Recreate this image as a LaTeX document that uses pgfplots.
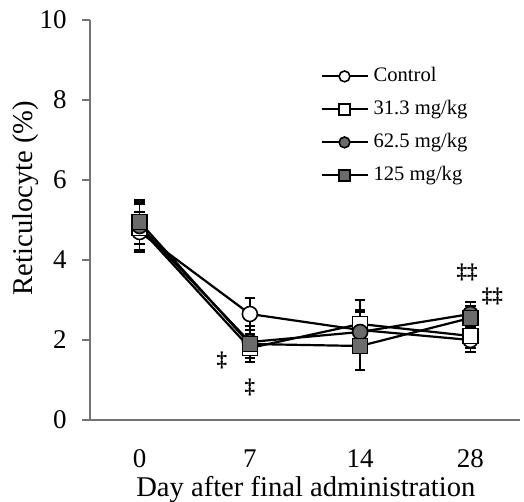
\documentclass[border=0pt]{standalone}
\usepackage{fontspec}
\setmainfont{Liberation Serif}
\usepackage{pgfplots}
\pgfplotsset{compat=1.18}
\usetikzlibrary{calc}
\definecolor{axcol}{gray}{0.45}
\definecolor{mfill}{gray}{0.42}
\pgfplotsset{
  mystyle/.style={black, line width=1.1pt, mark size=3.75pt,
    mark options={line width=0.8pt, solid, draw=black, fill=#1},
    error bars/y dir=both, error bars/y explicit,
    error bars/error bar style={line width=0.7pt, black},
    error bars/error mark options={rotate=90, mark size=2.6pt, line width=0.7pt, black}},
}
\begin{document}
\begin{tikzpicture}
\begin{axis}[
  name=ax,
  scale only axis, width=215pt, height=200pt,
  xmin=-0.45, xmax=3.45, ymin=0, ymax=10,
  axis x line*=bottom, axis y line*=left,
  axis line style={axcol, line width=0.6pt},
  xtick={0,1,2,3}, xticklabels={0,7,14,28},
  x tick style={draw=none},
  ytick={0,2,4,6,8,10},
  y tick style={axcol, line width=0.6pt},
  tick align=outside, major tick length=4pt,
  /pgf/number format/assume math mode=true,
  ticklabel style={font=\fontsize{13.5}{16}\selectfont},
  xticklabel style={anchor=base, yshift=-19.5pt, inner sep=0pt},
  yticklabel style={inner sep=0pt, xshift=-7.5pt},
  xlabel={Day after final administration},
  ylabel={Reticulocyte (\%)},
  label style={font=\fontsize{14.3}{17}\selectfont},
  xlabel style={at={(axis description cs:0.502,-0.19)}, anchor=base, inner sep=0pt},
  ylabel style={at={(axis description cs:-0.1326,0.555)}, anchor=base},
  clip=false,
  legend style={at={(axis description cs:0.521,0.8925)}, anchor=north west,
    draw=none, fill=none, font=\fontsize{10.3}{12}\selectfont,
    nodes={inner sep=0pt, text height=7pt, text depth=2pt, anchor=west},
    row sep=7.5pt, column sep=2.5pt},
  legend cell align=left,
  legend image code/.code={\draw[#1, mark repeat=2, mark phase=2] plot coordinates {(0pt,0pt) (11.5pt,0pt) (23pt,0pt)};},
  legend image post style={mark size=2.7pt},
]
\coordinate (O) at (rel axis cs:0,0);
\draw[axcol, line width=0.6pt] ($(rel axis cs:0,0)+(-4pt,0)$) -- (rel axis cs:0,0);

\addplot[mark=*, mystyle=white]
  coordinates {(0,4.7) +- (0,0.5) (1,2.65) +- (0,0.4) (2,2.25) +- (0,0.5) (3,2.0) +- (0,0.3)};
\addlegendentry{Control}

\addplot[mark=square*, mystyle=white]
  coordinates {(0,4.8) +- (0,0.6) (1,1.8) +- (0,0.35) (2,2.4) +- (0,0.6) (3,2.1) +- (0,0.3)};
\addlegendentry{31.3 mg/kg}

\addplot[mark=*, mystyle=mfill]
  coordinates {(0,4.85) +- (0,0.6) (1,1.95) +- (0,0.4) (2,2.2) +- (0,0.5) (3,2.65) +- (0,0.3)};
\addlegendentry{62.5 mg/kg}

\addplot[mark=square*, mystyle=mfill]
  coordinates {(0,4.95) +- (0,0.55) (1,1.9) +- (0,0.45) (2,1.85) +- (0,0.6) (3,2.55) +- (0,0.3)};
\addlegendentry{125 mg/kg}

\node[font=\fontsize{10.5}{11}\selectfont\bfseries] at (axis cs:0.747,1.5) {\ddag};
\node[font=\fontsize{10.5}{11}\selectfont\bfseries] at (axis cs:1.0,0.82) {\ddag};
\node[font=\fontsize{10.5}{11}\selectfont\bfseries] at (axis cs:2.97,3.7) {\ddag\ddag};
\node[font=\fontsize{10.5}{11}\selectfont\bfseries] at (axis cs:3.2,3.1) {\ddag\ddag};
\end{axis}
\pgfresetboundingbox
\path ($(O)+(-45pt,-41pt)$) rectangle ($(O)+(217pt,210pt)$);
\end{tikzpicture}
\end{document}
